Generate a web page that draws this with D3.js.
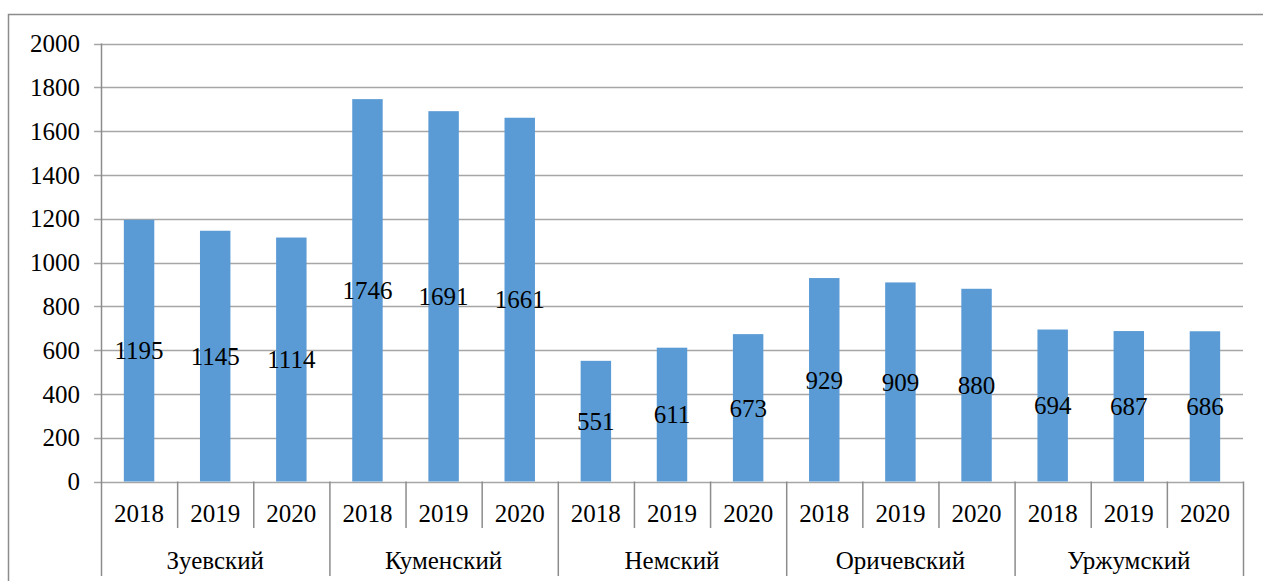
<!DOCTYPE html>
<html>
<head>
<meta charset="utf-8">
<script src="https://cdn.jsdelivr.net/npm/d3@7"></script>
<style>
  body { margin: 0; background: #fff; }
  svg text { font-family: "Liberation Serif", Tinos, "Times New Roman", "DejaVu Serif", serif; fill: #000; }
</style>
</head>
<body>
<div id="chart"></div>
<script>
// districts and years (two-level category axis)
var districts = ["Зуевский", "Куменский", "Немский", "Оричевский", "Уржумский"];
var years = ["2018", "2019", "2020"];
// values per district, in year order
var values = [
  [1195, 1145, 1114],
  [1746, 1691, 1661],
  [551, 611, 673],
  [929, 909, 880],
  [694, 687, 686]
];
var yTicks = [0, 200, 400, 600, 800, 1000, 1200, 1400, 1600, 1800, 2000];

var W = 1263, H = 581;
var plotLeft = 101, plotRight = 1243, plotTop = 43.5, plotBottom = 481.5;
var fontSize = "25px";
var serif = "'Liberation Serif', Tinos, 'Times New Roman', 'DejaVu Serif', serif";

// flatten to one row per bar
var data = [];
districts.forEach(function (d, i) {
  years.forEach(function (yr, j) {
    data.push({ key: d + "|" + yr, district: d, year: yr, value: values[i][j] });
  });
});

var x = d3.scaleBand()
  .domain(data.map(function (d) { return d.key; }))
  .range([plotLeft, plotRight])
  .paddingInner(0.6)
  .paddingOuter(0.3);
var step = x.step();

var y = d3.scaleLinear().domain([0, 2000]).range([plotBottom, plotTop]);

var svg = d3.select("#chart").append("svg")
  .attr("width", W)
  .attr("height", H)
  .attr("font-family", serif);

// outer chart frame
svg.append("rect")
  .attr("x", 8.5).attr("y", 14.5)
  .attr("width", 1300).attr("height", 700)
  .attr("fill", "none")
  .attr("stroke", "#8c8c8c")
  .attr("stroke-width", 1.5);

// gridlines
svg.append("g")
  .selectAll("line")
  .data(yTicks)
  .enter()
  .append("line")
  .attr("x1", plotLeft - 7)
  .attr("x2", plotRight)
  .attr("y1", function (d) { return Math.round(y(d)) + 0.5; })
  .attr("y2", function (d) { return Math.round(y(d)) + 0.5; })
  .attr("stroke", "#a6a6a6")
  .attr("stroke-width", 1.5);

// y tick labels
svg.append("g")
  .selectAll("text")
  .data(yTicks)
  .enter()
  .append("text")
  .attr("x", plotLeft - 21)
  .attr("y", function (d) { return y(d); })
  .attr("dy", "0.35em")
  .attr("text-anchor", "end")
  .style("font-family", serif)
  .style("font-size", fontSize)
  .text(function (d) { return d; });

// bars
svg.append("g")
  .selectAll("rect")
  .data(data)
  .enter()
  .append("rect")
  .attr("x", function (d) { return x(d.key); })
  .attr("width", x.bandwidth())
  .attr("y", function (d) { return y(d.value); })
  .attr("height", function (d) { return y(0) - y(d.value); })
  .attr("fill", "#5b9bd5");

// value labels, centred in each bar
svg.append("g")
  .selectAll("text")
  .data(data)
  .enter()
  .append("text")
  .attr("x", function (d) { return x(d.key) + x.bandwidth() / 2; })
  .attr("y", function (d) { return (y(d.value) + y(0)) / 2; })
  .attr("dy", "0.35em")
  .attr("text-anchor", "middle")
  .style("font-family", serif)
  .style("font-size", fontSize)
  .text(function (d) { return d.value; });

// y axis line, runs down through the category rows
svg.append("line")
  .attr("x1", plotLeft + 0.5).attr("x2", plotLeft + 0.5)
  .attr("y1", plotTop).attr("y2", 576)
  .attr("stroke", "#8c8c8c").attr("stroke-width", 1.5);

// category separators
var bounds = d3.range(data.length + 1);
svg.append("g")
  .selectAll("line")
  .data(bounds.slice(1))
  .enter()
  .append("line")
  .attr("x1", function (i) { return plotLeft + i * step + 0.5; })
  .attr("x2", function (i) { return plotLeft + i * step + 0.5; })
  .attr("y1", plotBottom)
  .attr("y2", function (i) { return i % 3 === 0 ? 576 : 528; })
  .attr("stroke", "#8c8c8c")
  .attr("stroke-width", 1.5);

// year labels
svg.append("g")
  .selectAll("text")
  .data(data)
  .enter()
  .append("text")
  .attr("x", function (d) { return x(d.key) + x.bandwidth() / 2; })
  .attr("y", 522)
  .attr("text-anchor", "middle")
  .style("font-family", serif)
  .style("font-size", fontSize)
  .text(function (d) { return d.year; });

// district labels
svg.append("g")
  .selectAll("text")
  .data(districts)
  .enter()
  .append("text")
  .attr("x", function (d, i) { return plotLeft + (i * 3 + 1.5) * step; })
  .attr("y", 569)
  .attr("text-anchor", "middle")
  .style("font-family", serif)
  .style("font-size", fontSize)
  .text(function (d) { return d; });
</script>
</body>
</html>
